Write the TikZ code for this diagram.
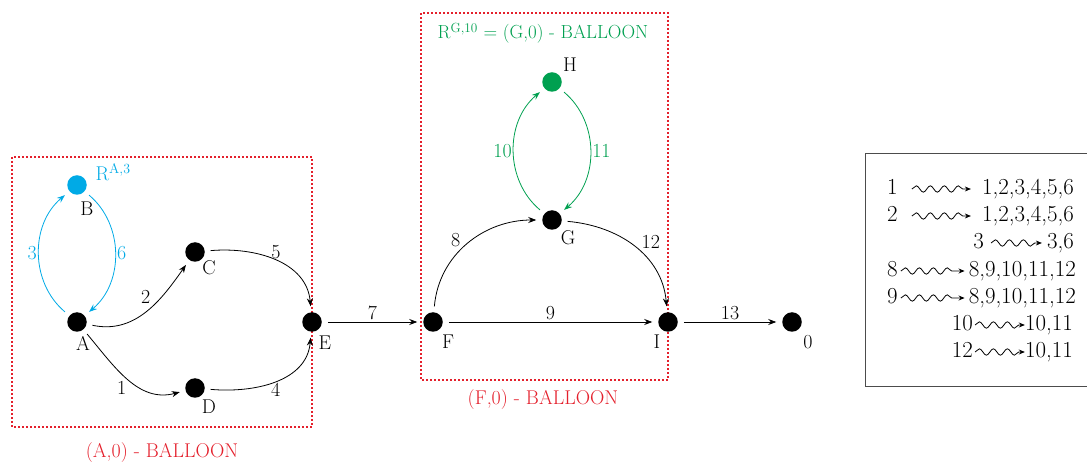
\documentclass[tikz,border=0pt]{standalone}
\usepackage{xcolor}
\usepackage{tikz}
\usetikzlibrary{arrows.meta,positioning,decorations.pathmorphing}
\definecolor{balred}{RGB}{228,32,44}
\definecolor{resblue}{RGB}{0,170,230}
\definecolor{resgreen}{RGB}{0,160,80}
\begin{document}
\begin{tikzpicture}[x=1bp, y=1bp,
  dot/.style={circle, fill=black, minimum size=19.5bp, inner sep=0pt, outer sep=6bp},
  arc/.style={-{Stealth[length=8bp,width=6bp]}, line width=0.8bp},
  lbl/.style={font=\fontsize{20}{24}\selectfont, inner sep=1.5bp},
  balloon/.style={balred, line width=1.6bp, dash pattern=on 1.6bp off 2.4bp},
  leg/.style={font=\fontsize{23}{27}\selectfont, inner sep=0pt, text height=15bp, text depth=4bp},
  squig/.style={-{Stealth[length=6bp,width=5bp]}, line width=0.8bp, decorate,
    decoration={snake, amplitude=3.2bp, segment length=14bp, post length=6bp}}]
\useasboundingbox (0,0) rectangle (1087,-464);
% balloons
\draw[balloon] (12,-157) rectangle (312,-427);
\draw[balloon] (421,-13) rectangle (668,-380);
\node[lbl, text=balred] (capA) at (162,-453) {(A,0) - BALLOON};
\node[lbl, text=balred] (capF) at (543,-400) {(F,0) - BALLOON};
\node[lbl, text=resgreen, font=\fontsize{19}{23}\selectfont] (capG) at (543,-33) {R\textsuperscript{G,10} = (G,0) - BALLOON};
% vertices
\node[dot] (A) at (77,-322) {};
\node[dot, fill=resblue] (B) at (77,-185) {};
\node[dot] (C) at (195,-252) {};
\node[dot] (D) at (195,-388) {};
\node[dot] (E) at (312,-322) {};
\node[dot] (F) at (433,-322) {};
\node[dot] (G) at (552,-220) {};
\node[dot, fill=resgreen] (H) at (552,-82) {};
\node[dot] (I) at (668,-322) {};
\node[dot] (O) at (792,-322) {};
\node[lbl] (nA) at ([shift={(6,-21)}]A.center) {A};
\node[lbl] (nB) at ([shift={(10,-24)}]B.center) {B};
\node[lbl, text=resblue, anchor=base west] (RA) at ([shift={(17,4)}]B.center) {R\textsuperscript{A,3}};
\node[lbl] (nC) at ([shift={(14,-16)}]C.center) {C};
\node[lbl] (nD) at ([shift={(14,-19)}]D.center) {D};
\node[lbl] (nE) at ([shift={(13,-21)}]E.center) {E};
\node[lbl] (nF) at ([shift={(15,-20)}]F.center) {F};
\node[lbl] (nG) at ([shift={(16,-18)}]G.center) {G};
\node[lbl] (nH) at ([shift={(18,17)}]H.center) {H};
\node[lbl] (nI) at ([shift={(-11,-20)}]I.center) {I};
\node[lbl] (nO) at ([shift={(16,-20)}]O.center) {0};
% arcs
\draw[arc, resblue] (A) to[out=140,in=220] node[lbl, left, pos=0.5] (e3) {3} (B);
\draw[arc, resblue] (B) to[out=-40,in=40] node[lbl, right, pos=0.5] (e6) {6} (A);
\draw[arc] (A) to[out=-12,in=235] node[lbl, above=6bp, pos=0.5] (e2) {2} (C);
\draw[arc] (A) to[out=-50,in=195] node[lbl, below left, pos=0.5] (e1) {1} (D);
\draw[arc] (C) to[out=5,in=95] node[lbl, above, pos=0.5] (e5) {5} (E);
\draw[arc] (D) to[out=-5,in=265] node[lbl, below, pos=0.5] (e4) {4} (E);
\draw[arc] (E) -- node[lbl, above] (e7) {7} (F);
\draw[arc] (F) to[out=85,in=180] node[lbl, above left, pos=0.45] (e8) {8} (G);
\draw[arc] (F) -- node[lbl, above] (e9) {9} (I);
\draw[arc] (G) to[out=-5,in=95] node[lbl, above right, pos=0.55] (e12) {12} (I);
\draw[arc, resgreen] (G) to[out=140,in=220] node[lbl, left, pos=0.5] (e10) {10} (H);
\draw[arc, resgreen] (H) to[out=-40,in=40] node[lbl, right, pos=0.5] (e11) {11} (G);
\draw[arc] (I) -- node[lbl, above] (e13) {13} (O);
% legend
\draw[gray!60!black, line width=0.8bp] (865,-153) rectangle (1100,-386);
\node[leg, anchor=west] (l1a) at (887,-189) {1};
\node[leg, anchor=east] (l1b) at (1074,-189) {1,2,3,4,5,6};
\draw[squig] ([xshift=14bp]l1a.east) -- ([xshift=-11bp]l1b.west);
\node[leg, anchor=west] (l2a) at (887,-216) {2};
\node[leg, anchor=east] (l2b) at (1074,-216) {1,2,3,4,5,6};
\draw[squig] ([xshift=14bp]l2a.east) -- ([xshift=-11bp]l2b.west);
\node[leg, anchor=east] (l3a) at (984,-243) {3};
\node[leg, anchor=east] (l3b) at (1074,-243) {3,6};
\draw[squig] ([xshift=7bp]l3a.east) -- ([xshift=-5bp]l3b.west);
\node[leg, anchor=west] (l4a) at (887,-271) {8};
\node[leg, anchor=east] (l4b) at (1076,-271) {8,9,10,11,12};
\draw[squig] ([xshift=3bp]l4a.east) -- ([xshift=-4bp]l4b.west);
\node[leg, anchor=west] (l5a) at (887,-298) {9};
\node[leg, anchor=east] (l5b) at (1076,-298) {8,9,10,11,12};
\draw[squig] ([xshift=3bp]l5a.east) -- ([xshift=-4bp]l5b.west);
\node[leg, anchor=east] (l6a) at (973,-325) {10};
\node[leg, anchor=east] (l6b) at (1073,-325) {10,11};
\draw[squig] ([xshift=2bp]l6a.east) -- ([xshift=0bp]l6b.west);
\node[leg, anchor=east] (l7a) at (973,-352) {12};
\node[leg, anchor=east] (l7b) at (1073,-352) {10,11};
\draw[squig] ([xshift=2bp]l7a.east) -- ([xshift=0bp]l7b.west);
\end{tikzpicture}
\end{document}
